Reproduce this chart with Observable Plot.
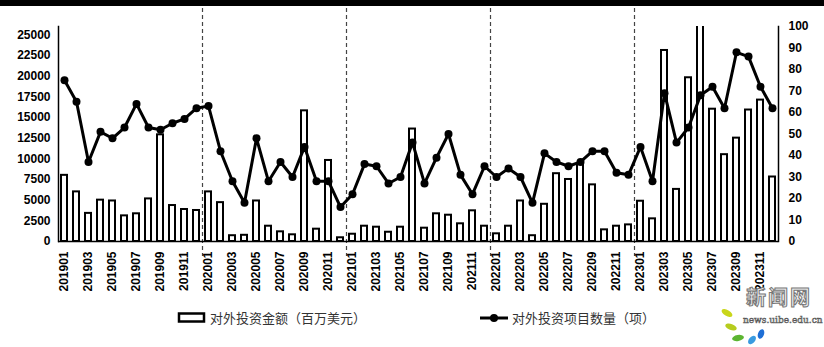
<!DOCTYPE html>
<html><head><meta charset="utf-8">
<script src="https://cdn.jsdelivr.net/npm/d3@7"></script>
<script src="https://cdn.jsdelivr.net/npm/@observablehq/plot@0.6"></script>
<style>
body{margin:0;background:#fff;width:824px;height:347px;overflow:hidden;position:relative;font-family:"Liberation Sans",Arial,sans-serif}
#topband{height:6px;background:#000}
.lg{position:absolute;font-family:"Noto Sans CJK SC",sans-serif;font-size:13px;color:#333;line-height:16px;white-space:nowrap}
</style></head><body>
<div id="topband"></div>
<div id="chart"></div>
<svg style="position:absolute;left:0;top:0" width="824" height="347">
  <rect x="179" y="313.5" width="25" height="8" fill="#fff" stroke="#000" stroke-width="2.5"/>
  <line x1="480" y1="318" x2="508" y2="318" stroke="#000" stroke-width="3"/>
  <circle cx="494" cy="318" r="4" fill="#000"/>
  <ellipse cx="727" cy="313" rx="6" ry="3" fill="#c9d61a" transform="rotate(30 727 313)"/>
  <ellipse cx="731" cy="327" rx="6" ry="3" fill="#b6cc1e" transform="rotate(20 731 327)"/>
  <ellipse cx="738" cy="338" rx="6" ry="3" fill="#5cb531" transform="rotate(-10 738 338)"/>
  <ellipse cx="752" cy="340" rx="5" ry="3" fill="#3a9be0" transform="rotate(-50 752 340)"/>
  <ellipse cx="761" cy="334" rx="5" ry="3" fill="#1f6fd6" transform="rotate(-70 761 334)"/>
</svg>
<div class="lg" style="left:210px;top:310px">对外投资金额（百万美元）</div>
<div class="lg" style="left:512px;top:310px">对外投资项目数量（项）</div>
<div style="position:absolute;left:746px;top:287px;font-family:'Noto Sans CJK SC',serif;font-size:20px;line-height:20px;font-weight:bold;color:#eee;-webkit-text-stroke:1px #777;letter-spacing:2px">新闻网</div>
<div style="position:absolute;left:743px;top:316px;font-family:'DejaVu Serif',serif;font-size:9px;line-height:9px;color:#fff;-webkit-text-stroke:0.6px #555">news.uibe.edu.cn</div>
<script>
const months = ["201901","201902","201903","201904","201905","201906","201907","201908","201909","201910","201911","201912",
"202001","202002","202003","202004","202005","202006","202007","202008","202009","202010","202011","202012",
"202101","202102","202103","202104","202105","202106","202107","202108","202109","202110","202111","202112",
"202201","202202","202203","202204","202205","202206","202207","202208","202209","202210","202211","202212",
"202301","202302","202303","202304","202305","202306","202307","202308","202309","202310","202311","202312"];
const amounts = [8000,6000,3400,5000,4900,3100,3350,5150,12900,4350,3870,3750,
6000,4700,700,750,4900,1850,1170,810,15800,1490,9800,450,
880,1850,1730,1120,1730,13600,1610,3350,3180,2140,3710,1850,
930,1850,4900,700,4500,8200,7500,9400,6850,1410,1850,2010,
4870,2740,23100,6300,19800,27000,16000,10500,12500,15900,17100,7800];
const counts = [75,65,37,51,48,53,64,53,52,55,57,62,
63,42,28,18,48,28,37,30,44,28,28,16,
22,36,35,27,30,46,27,39,50,31,22,35,
30,34,30,18,41,37,35,37,42,42,32,31,
44,28,69,46,53,68,72,62,88,86,72,62];
const yearStarts = ["202001","202101","202201","202301"];
const leftTicks = [0,2500,5000,7500,10000,12500,15000,17500,20000,22500,25000];
const rightTicks = [0,10,20,30,40,50,60,70,80,90,100];
const LEFT_MAX = 26000, RIGHT_MAX = 100;
const k = LEFT_MAX / RIGHT_MAX;
const data = months.map((m,i)=>({month:m, amount:amounts[i], count:counts[i]}));
const chart = Plot.plot({
  width: 824, height: 300,
  marginLeft: 58, marginRight: 46, marginTop: 20, marginBottom: 65,
  style: {fontFamily: "Liberation Sans, Arial, sans-serif", fontSize: "12px", fontWeight: "bold", color: "#000", background: "#fff", overflow: "visible"},
  x: {domain: months, type: "band", paddingInner: 0.52, paddingOuter: 0.17, label: null},
  y: {domain: [0, LEFT_MAX], label: null},
  marks: [
    Plot.ruleX(yearStarts, {x: d=>d, dx: -6, stroke: "#444", strokeWidth: 1.2, strokeDasharray: "4,3", insetTop: -18, insetBottom: -15}),
    Plot.barY(data, {x:"month", y:"amount", fill:"#fff", stroke:"#000", strokeWidth:2, clip:true}),
    Plot.line(data, {x:"month", y: d=>d.count*k, stroke:"#000", strokeWidth:3}),
    Plot.dot(data, {x:"month", y: d=>d.count*k, r:4, fill:"#000", stroke:"none"}),
    Plot.frame({anchor:"left", stroke:"#000", strokeWidth:1.5}),
    Plot.frame({anchor:"right", stroke:"#000", strokeWidth:1.5}),
    Plot.ruleY([0], {stroke:"#000", strokeWidth:1.5}),
    Plot.axisY({ticks: leftTicks, tickSize:0, tickPadding:8, label:null, tickFormat: d=>String(d)}),
    Plot.axisY({anchor:"right", ticks: rightTicks.map(v=>v*k), tickFormat: d=>String(Math.round(d/k)), tickSize:0, tickPadding:10, label:null}),
    Plot.axisX({ticks: months.filter((d,i)=>i%2===0), tickRotate:-90, tickSize:0, tickPadding:10, label:null})
  ]
});
document.getElementById("chart").appendChild(chart);
</script>
</body></html>
